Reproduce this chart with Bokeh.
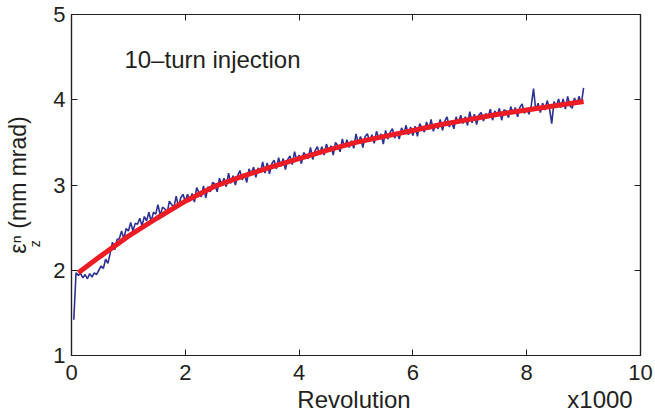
from bokeh.plotting import figure
from bokeh.models import Range1d, FixedTicker, LinearAxis, Label
from bokeh.embed import file_html
from bokeh.resources import INLINE

# ---- data ----
revolution = [round(0.04 * k, 2) for k in range(1, 226)]  # in units of 1000 revolutions
emittance = [
    1.42, 1.97, 1.94, 1.96, 1.91, 1.95, 1.90, 1.96, 1.92, 1.97,
    1.95, 2.00, 2.05, 2.02, 2.13, 2.08, 2.20, 2.33, 2.24, 2.36,
    2.37, 2.46, 2.37, 2.49, 2.46, 2.56, 2.46, 2.55, 2.54, 2.61,
    2.52, 2.63, 2.58, 2.68, 2.57, 2.68, 2.66, 2.77, 2.64, 2.74,
    2.72, 2.67, 2.81, 2.77, 2.74, 2.87, 2.74, 2.85, 2.89, 2.81,
    2.89, 2.81, 2.90, 2.80, 2.97, 2.91, 2.86, 2.99, 2.85, 2.98,
    2.92, 3.03, 3.01, 2.92, 3.08, 3.00, 3.08, 2.98, 3.14, 3.02,
    3.11, 3.00, 3.11, 3.17, 3.06, 3.13, 3.03, 3.19, 3.13, 3.21,
    3.09, 3.20, 3.15, 3.27, 3.14, 3.26, 3.13, 3.25, 3.29, 3.19,
    3.32, 3.22, 3.31, 3.18, 3.30, 3.34, 3.24, 3.39, 3.29, 3.35,
    3.25, 3.38, 3.35, 3.31, 3.44, 3.30, 3.40, 3.45, 3.36, 3.45,
    3.35, 3.48, 3.40, 3.46, 3.35, 3.50, 3.46, 3.39, 3.54, 3.44,
    3.53, 3.44, 3.52, 3.43, 3.60, 3.49, 3.57, 3.44, 3.57, 3.60,
    3.51, 3.59, 3.49, 3.63, 3.55, 3.60, 3.48, 3.64, 3.54, 3.62,
    3.66, 3.55, 3.62, 3.54, 3.67, 3.60, 3.70, 3.59, 3.68, 3.58,
    3.69, 3.57, 3.72, 3.67, 3.62, 3.74, 3.65, 3.77, 3.63, 3.72,
    3.66, 3.77, 3.64, 3.75, 3.80, 3.68, 3.75, 3.66, 3.80, 3.72,
    3.82, 3.72, 3.80, 3.70, 3.86, 3.73, 3.83, 3.71, 3.82, 3.85,
    3.75, 3.84, 3.79, 3.89, 3.76, 3.87, 3.80, 3.90, 3.76, 3.88,
    3.87, 3.79, 3.92, 3.84, 3.91, 3.80, 3.91, 3.95, 3.84, 3.90,
    3.83, 3.93, 4.13, 3.87, 3.96, 3.85, 3.96, 3.88, 3.99, 3.90,
    3.72, 3.98, 3.92, 4.01, 3.91, 4.01, 3.89, 4.04, 3.93, 3.90,
    4.02, 3.94, 4.04, 3.95, 4.14,
]
fit_revolution = [0.12, 0.5, 1.0, 1.5, 2.0, 2.5, 3.0, 3.5, 4.0, 4.5,
                  5.0, 5.5, 6.0, 6.5, 7.0, 7.5, 8.0, 8.5, 9.0]
fit_emittance = [1.97, 2.16, 2.40, 2.61, 2.81, 2.98, 3.10, 3.21, 3.31, 3.41,
                 3.50, 3.57, 3.64, 3.71, 3.77, 3.83, 3.88, 3.93, 3.98]
x_ticks = [0, 2, 4, 6, 8, 10]
y_ticks = [1, 2, 3, 4, 5]
title_text = "10\u2013turn injection"
x_label = "Revolution"
x_multiplier = "x1000"
y_label = "\u03b5\u207f (mm mrad)"
y_label_sub = "z"

# positions (data units) of the text pieces that sit under / beside the axes
x_label_pos = 4.965
x_multiplier_pos = 9.288
y_sub_pos = 2.31

TXT = "#231F20"
FONT = "Liberation Sans"

p = figure(width=655, height=420, x_range=Range1d(0, 10), y_range=Range1d(1, 5),
           output_backend="svg", toolbar_location=None,
           min_border_left=71, min_border_right=15, min_border_top=14,
           min_border_bottom=65)
p.grid.visible = False
p.outline_line_color = TXT
p.outline_line_width = 1.2
p.background_fill_color = "white"
p.border_fill_color = "white"

for ax in (p.xaxis[0], p.yaxis[0]):
    ax.axis_line_color = TXT
    ax.axis_line_width = 1.2
    ax.major_tick_in = 6
    ax.major_tick_out = 0
    ax.minor_tick_line_color = None
    ax.major_tick_line_color = TXT
    ax.major_label_text_font = FONT
    ax.major_label_text_font_size = "22px"
    ax.major_label_text_color = TXT

p.xaxis[0].ticker = FixedTicker(ticks=x_ticks)
p.yaxis[0].ticker = FixedTicker(ticks=y_ticks)
p.xaxis[0].major_label_standoff = 9
p.yaxis[0].major_label_standoff = 6

# second row under the x axis: "Revolution" and "x1000"
xlab_axis = LinearAxis(ticker=FixedTicker(ticks=[x_label_pos, x_multiplier_pos]),
                       major_label_overrides={x_label_pos: x_label,
                                              x_multiplier_pos: x_multiplier},
                       major_label_text_font=FONT, major_label_text_font_size="24px",
                       major_label_text_color=TXT, major_label_standoff=3,
                       major_tick_in=0, major_tick_out=0, major_tick_line_color=None,
                       minor_tick_line_color=None, axis_line_color=None)
p.add_layout(xlab_axis, "below")

# y label: epsilon^n (mm mrad) with subscript z
ylab_axis = LinearAxis(ticker=FixedTicker(ticks=[y_sub_pos]),
                       major_label_overrides={y_sub_pos: y_label_sub},
                       major_label_orientation="vertical",
                       major_label_text_font=FONT, major_label_text_font_size="14px",
                       major_label_text_color=TXT, major_label_standoff=7,
                       major_tick_in=0, major_tick_out=0, major_tick_line_color=None,
                       minor_tick_line_color=None, axis_line_color=None,
                       axis_label=y_label, axis_label_text_font=FONT,
                       axis_label_text_font_size="23px", axis_label_text_color=TXT,
                       axis_label_text_font_style="normal", axis_label_standoff=-6)
p.add_layout(ylab_axis, "left")

# mirrored ticks on top and right (MATLAB box)
for loc, ticks in (("above", x_ticks), ("right", y_ticks)):
    ax = LinearAxis(ticker=FixedTicker(ticks=ticks), major_tick_in=6, major_tick_out=0,
                    minor_tick_line_color=None, major_label_text_font_size="1px",
                    major_label_text_color=None,
                    major_label_standoff=0, axis_line_color=TXT, axis_line_width=1.2,
                    major_tick_line_color=TXT)
    p.add_layout(ax, loc)

p.line(revolution, emittance, line_color="#2E3192", line_width=1.6)
p.line(fit_revolution, fit_emittance, line_color="#EC1C24", line_width=5)

p.add_layout(Label(x=0.93, y=4.472, text=title_text, text_font=FONT,
                   text_font_size="24px", text_color=TXT,
                   text_align="left", text_baseline="alphabetic"))

open("out.html", "w").write(file_html(p, INLINE))
